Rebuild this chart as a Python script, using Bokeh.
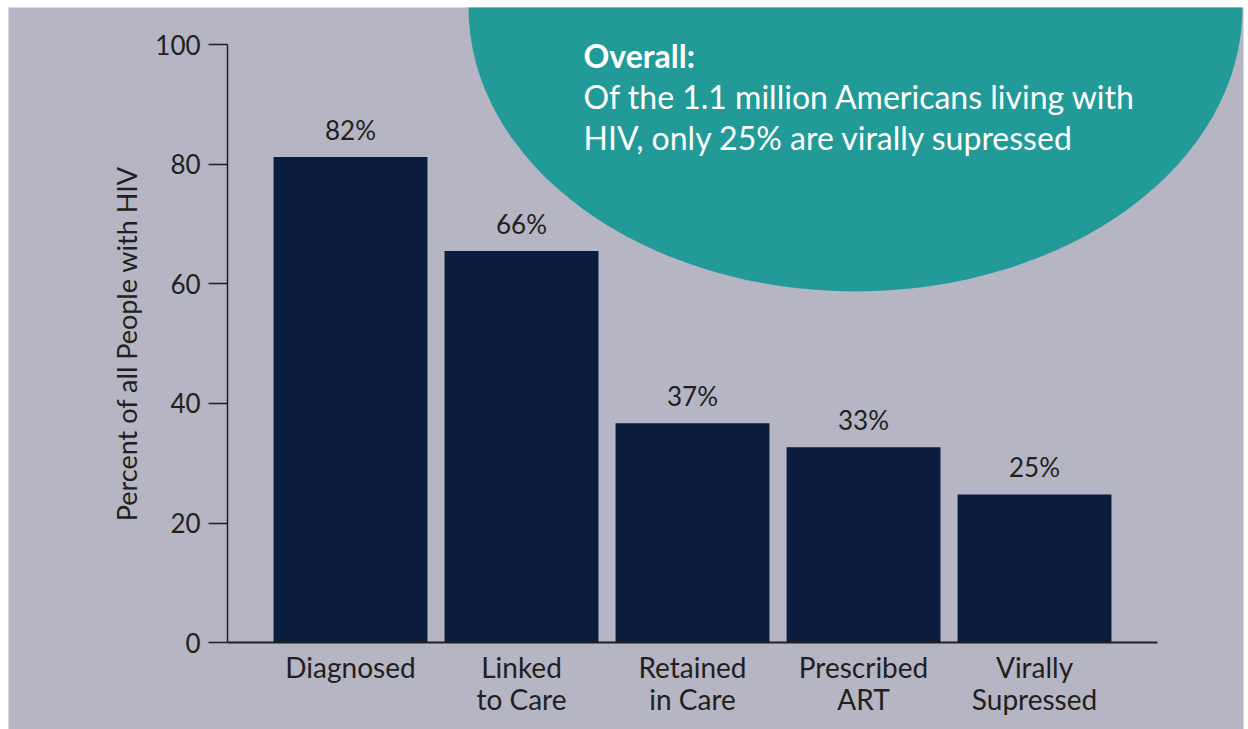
from bokeh.plotting import figure
from bokeh.models import Range1d, LinearAxis, FixedTicker, ColumnDataSource, Label
from bokeh.embed import file_html
from bokeh.resources import INLINE
from bokeh.core.properties import value

# ---- data ----
categories = ["Diagnosed", "Linked\nto Care", "Retained\nin Care", "Prescribed\nART", "Virally\nSupressed"]
bar_values = [81.2, 65.5, 36.7, 32.7, 24.8]
value_labels = ["82%", "66%", "37%", "33%", "25%"]
y_ticks = [0, 20, 40, 60, 80, 100]
y_label = "Percent of all People with HIV"
callout_title = "Overall:"
callout_lines = ["Of the 1.1 million Americans living with", "HIV, only 25% are virally supressed"]

BG = "#b5b5c3"
NAVY = "#0a1d3f"
TEAL = "#229b98"
INK = "#231f20"
FONT = "Lato"

xs = list(range(len(categories)))
src = ColumnDataSource(dict(x=xs, top=bar_values, lab=value_labels))

p = figure(width=1248, height=729, frame_width=1235, frame_height=722,
           x_range=Range1d(-2.0, 5.222), y_range=Range1d(-14.49, 106.19),
           x_axis_location=None, y_axis_location=None,
           output_backend="svg", toolbar_location=None)
p.min_border_left = 8
p.min_border_right = 5
p.min_border_top = 7
p.min_border_bottom = 0
p.border_fill_color = "white"
p.background_fill_color = BG
p.outline_line_color = None
p.xgrid.visible = False
p.ygrid.visible = False

# callout ellipse (clipped by the frame)
p.ellipse(x=2.953, y=106.19, width=4.526, height=94.9, fill_color=TEAL, line_color=None)

# bars
p.vbar(x="x", top="top", width=0.9, bottom=0, source=src, fill_color=NAVY, line_color=None)

# value labels
p.text(x="x", y="top", text="lab", source=src, text_align="center", text_baseline="alphabetic",
       y_offset=-27, text_font=value(FONT), text_font_size="26px", text_color=INK)

# y axis
yaxis = LinearAxis(fixed_location=-0.719, bounds=(0, 100), ticker=FixedTicker(ticks=y_ticks))
yaxis.axis_line_color = INK
yaxis.axis_line_width = 1.5
yaxis.major_tick_line_color = INK
yaxis.major_tick_line_width = 1.5
yaxis.major_tick_out = 19
yaxis.major_tick_in = 0
yaxis.minor_tick_line_color = None
yaxis.major_label_standoff = 8
yaxis.major_label_text_font = FONT
yaxis.major_label_text_font_size = "26px"
yaxis.major_label_text_color = INK
yaxis.axis_label = y_label
yaxis.axis_label_text_font = FONT
yaxis.axis_label_text_font_size = "27px"
yaxis.axis_label_text_font_style = "normal"
yaxis.axis_label_text_color = INK
yaxis.axis_label_standoff = 9
p.add_layout(yaxis, "left")

# x axis
xaxis = LinearAxis(fixed_location=0, bounds=(-0.719, 4.719), ticker=FixedTicker(ticks=xs))
xaxis.major_label_overrides = {i: c for i, c in zip(xs, categories)}
xaxis.axis_line_color = INK
xaxis.axis_line_width = 2
xaxis.major_tick_line_color = None
xaxis.major_tick_out = 0
xaxis.major_tick_in = 0
xaxis.minor_tick_line_color = None
xaxis.major_label_standoff = 7
xaxis.major_label_text_font = FONT
xaxis.major_label_text_font_size = "28px"
xaxis.major_label_text_color = INK
xaxis.major_label_text_line_height = 0.95
p.add_layout(xaxis, "below")

# callout text
p.add_layout(Label(x=1.3626, y=98.2, text=callout_title, text_font=FONT, text_font_size="32px",
                   text_font_style="bold", text_color="white", text_baseline="alphabetic"))
for i, line in enumerate(callout_lines):
    p.add_layout(Label(x=1.3626, y=98.2 - (i + 1) * 6.85, text=line, text_font=FONT,
                       text_font_size="32px", text_color="white", text_baseline="alphabetic"))

open("out.html", "w").write(file_html(p, INLINE))
